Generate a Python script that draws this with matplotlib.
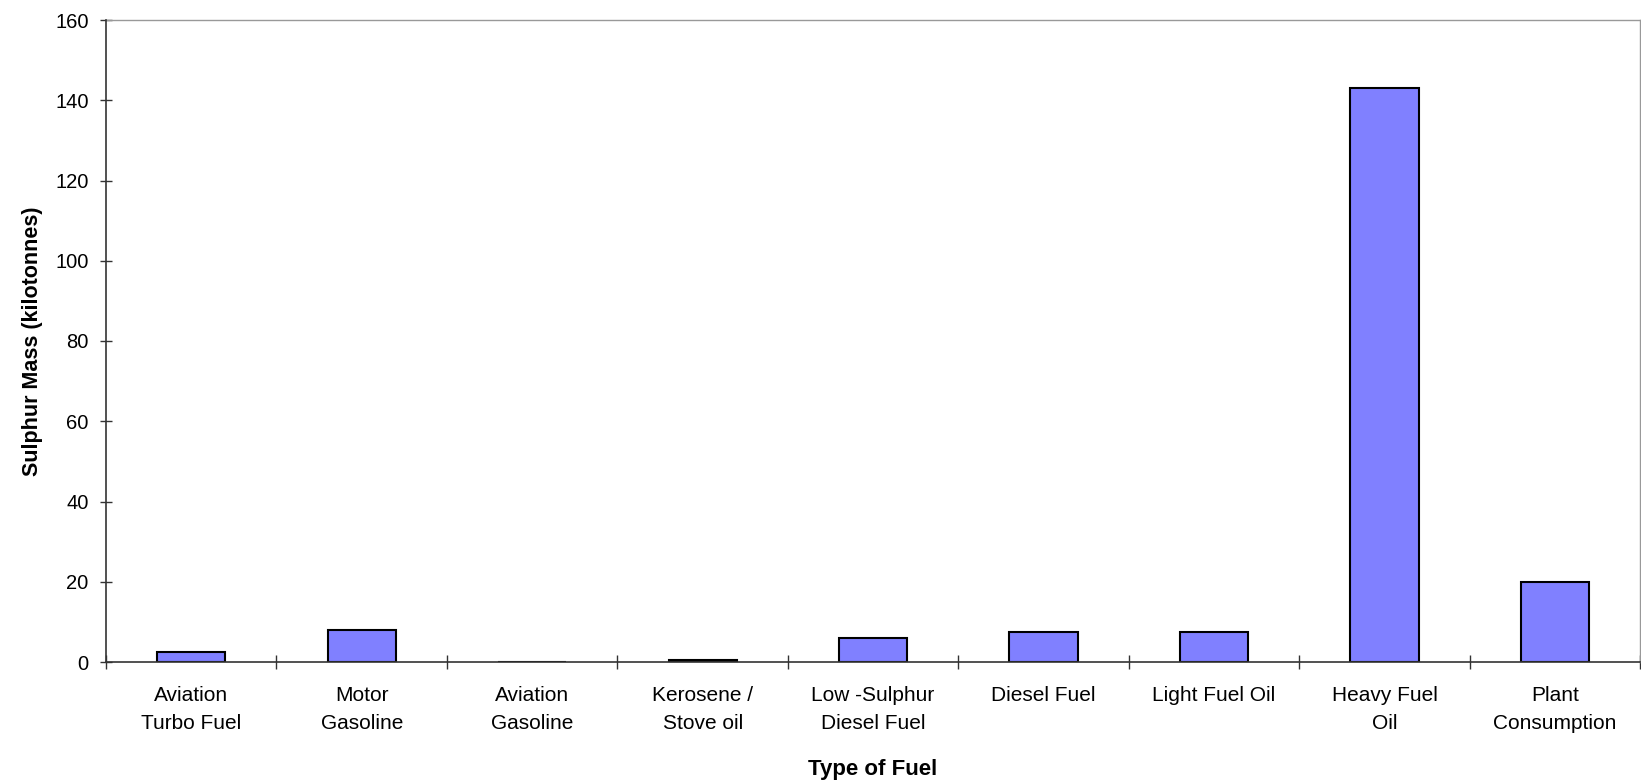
import matplotlib
matplotlib.use("Agg")
import matplotlib.pyplot as plt
import numpy as np

categories = ["Aviation\nTurbo Fuel", "Motor\nGasoline", "Aviation\nGasoline",
              "Kerosene /\nStove oil", "Low -Sulphur\nDiesel Fuel", "Diesel Fuel",
              "Light Fuel Oil", "Heavy Fuel\nOil", "Plant\nConsumption"]
values = [2.5, 8.0, 0.0, 0.5, 6.0, 7.5, 7.5, 143.0, 20.0]
yticks = [0, 20, 40, 60, 80, 100, 120, 140, 160]

plt.rcParams['font.family'] = ['Liberation Sans', 'DejaVu Sans']

fig = plt.figure(figsize=(16.41, 7.82), dpi=100)
ax = fig.add_axes([106/1641, 1 - 662/782, 1 - 106/1641 - 0.0005, (662 - 20)/782])

x = np.arange(len(categories))
ax.bar(x, values, width=0.4, color="#8080FF", edgecolor="black", linewidth=1.5, zorder=2)

ax.set_xlim(-0.5, len(categories) - 0.5)
ax.set_ylim(0, 160)
ax.set_yticks(yticks)
ax.set_yticklabels([str(v) for v in yticks], fontsize=14.5)

ax.set_xticks(x)
ax.set_xticklabels(categories, fontsize=15, linespacing=1.6)
ax.set_xticks(np.arange(len(categories) + 1) - 0.5, minor=True)
ax.tick_params(axis='x', which='major', length=0, pad=17)
ax.tick_params(axis='x', which='minor', direction='inout', length=10, width=1, color='#333333')
ax.tick_params(axis='y', which='major', direction='inout', length=9, width=1, color='#333333', pad=8)

for s in ['top', 'right']:
    ax.spines[s].set_color('#999999')
    ax.spines[s].set_linewidth(1)
for s in ['left', 'bottom']:
    ax.spines[s].set_color('#333333')
    ax.spines[s].set_linewidth(1.2)
    ax.spines[s].set_zorder(3)

ax.set_ylabel("Sulphur Mass (kilotonnes)", fontsize=15.5, fontweight='bold', labelpad=9)
ax.set_xlabel("Type of Fuel", fontsize=16, fontweight='bold', labelpad=19)

fig.savefig("out.png", dpi=100)
